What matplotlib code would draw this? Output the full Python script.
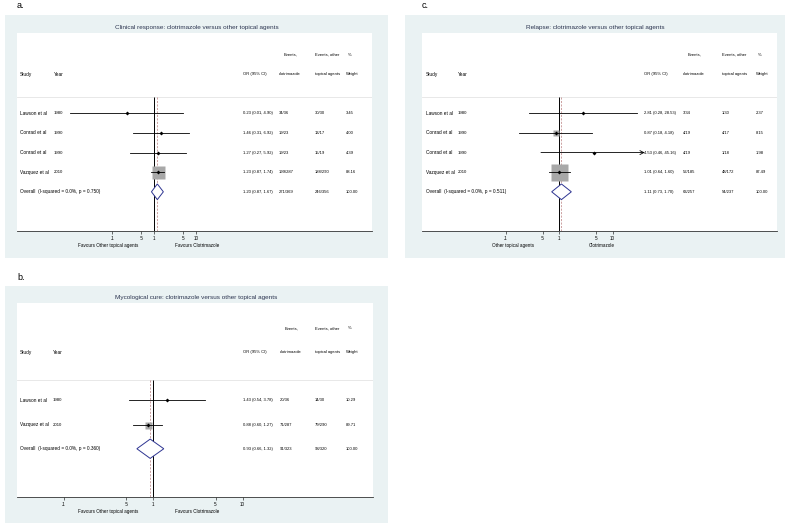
import numpy as np
import matplotlib
matplotlib.use("Agg")
import matplotlib.pyplot as plt
from matplotlib.transforms import blended_transform_factory

plt.rcParams['font.family'] = ['Liberation Sans', 'DejaVu Sans']

W, H = 793, 525

# ---- data ----
clin_study = ['Lawson et al', 'Conrad et al', 'Conrad et al', 'Vazquez et al']
clin_year = ['1980', '1990', '1990', '2010']
clin_or = [0.23, 1.46, 1.27, 1.23]
clin_lo = [0.01, 0.31, 0.27, 0.87]
clin_hi = [4.90, 6.92, 5.92, 1.74]
clin_ev1 = ['34/36', '19/23', '19/23', '199/287']
clin_ev2 = ['30/30', '13/17', '15/19', '188/290']
clin_wt = [3.45, 4.00, 4.39, 88.16]
clin_overall = (1.20, 0.87, 1.67, '271/369', '246/356', '(I-squared = 0.0%, p = 0.750)')

rel_study = ['Lawson et al', 'Conrad et al', 'Conrad et al', 'Vazquez et al']
rel_year = ['1980', '1990', '1990', '2010']
rel_or = [2.81, 0.87, 4.53, 1.01]
rel_lo = [0.28, 0.18, 0.46, 0.64]
rel_hi = [28.53, 4.18, 45.16, 1.60]
rel_ev1 = ['3/34', '4/19', '4/19', '52/185']
rel_ev2 = ['1/30', '4/17', '1/18', '48/172']
rel_wt = [2.37, 8.15, 1.98, 87.49]
rel_overall = (1.11, 0.73, 1.70, '63/257', '54/237', '(I-squared = 0.0%, p = 0.511)')

myc_study = ['Lawson et al', 'Vazquez et al']
myc_year = ['1980', '2010']
myc_or = [1.43, 0.88]
myc_lo = [0.54, 0.60]
myc_hi = [3.78, 1.27]
myc_ev1 = ['20/36', '71/287']
myc_ev2 = ['14/30', '79/290']
myc_wt = [10.29, 89.71]
myc_overall = (0.93, 0.66, 1.32, '91/323', '93/320', '(I-squared = 0.0%, p = 0.360)')

tick_vals = [0.1, 0.5, 1, 5, 10]
tick_labels = ['.1', '.5', '1', '5', '10']

BG = '#eaf2f3'
TITLE_C = '#2c3550'
DIAMOND_C = '#2e3592'
OLINE_C = '#b87c7c'
FS = 3.4    # left-hand labels
FSR = 3.0   # right-hand columns
TFS = 4.6

fig = plt.figure(figsize=(W / 100, H / 100), dpi=100)
fig.patch.set_facecolor('white')


def px_axes(x0, y0, x1, y1):
    return fig.add_axes([x0 / W, 1 - y1 / H, (x1 - x0) / W, (y1 - y0) / H])


def forest(panel, bg_box, in_box, log_lims, ylims, title, study, year, orv, lo, hi,
           ev1, ev2, wt, overall, cols, fav, box_max, clip=None):
    # background region
    bga = px_axes(*bg_box)
    bga.set_facecolor(BG)
    bga.set_xticks([])
    bga.set_yticks([])
    for s in bga.spines.values():
        s.set_visible(False)
    bga.text(0.5, 1 - (in_box[1] - 5 - bg_box[1]) / (bg_box[3] - bg_box[1]), title,
             transform=bga.transAxes, ha='center', va='center', fontsize=TFS, color=TITLE_C)
    fig.text((in_box[0]) / W, 1 - (bg_box[1] - 9) / H, panel, fontsize=6.5,
             ha='left', va='center')

    ax = px_axes(*in_box)
    ax.set_facecolor('white')
    ax.set_xscale('log')
    ax.set_xlim(10 ** log_lims[0], 10 ** log_lims[1])
    ax.set_ylim(ylims[1], ylims[0])
    for k in ['top', 'right', 'left']:
        ax.spines[k].set_visible(False)
    ax.spines['bottom'].set_linewidth(0.6)
    ax.spines['bottom'].set_color('#333333')
    ax.set_yticks([])
    ax.set_xticks(tick_vals)
    ax.set_xticklabels(tick_labels)
    ax.xaxis.set_minor_locator(matplotlib.ticker.NullLocator())
    ax.tick_params(axis='x', length=2.5, width=0.4, labelsize=3.3, pad=1)

    tr = blended_transform_factory(ax.transAxes, ax.transData)
    xs, xy, xo, xe1, xe2, xw = [(c - in_box[0]) / (in_box[2] - in_box[0]) for c in cols]

    def put(x, y, s, fs=FSR):
        ax.text(x, y, s, transform=tr, fontsize=fs, va='center')

    # headers
    put(xs, 1, 'Study', FS)
    put(xy, 1, 'Year', FS)
    put(xo, 1, 'OR (95% CI)')
    put(xe1 + 0.012, 0, 'Events,')
    put(xe1, 1, 'clotrimazole')
    put(xe2, 0, 'Events, other')
    put(xe2, 1, 'topical agents')
    put(xw + 0.005, 0, '%')
    put(xw, 1, 'Weight')

    n = len(study)
    rows = np.arange(n) + 3
    ov_row = n + 3
    top = 2.15
    ax.axhline(top, color='#e4e4e4', lw=0.6)
    ax.vlines(1, top, ylims[1], color='black', lw=0.7, zorder=2)
    ax.vlines(overall[0], top, ylims[1], color=OLINE_C, lw=0.5,
              linestyles=(0, (3, 2)), zorder=2)

    wmax = max(wt)
    for i in range(n):
        y = rows[i]
        side = box_max * np.sqrt(wt[i] / wmax)
        ax.plot(orv[i], y, marker='s', ms=side * 0.72, color='#a8a8a8', mec='none', zorder=3)
        if clip is not None and hi[i] > clip:
            ax.annotate('', xy=(clip, y), xytext=(lo[i], y),
                        arrowprops=dict(arrowstyle='->', lw=0.6, color='black',
                                        shrinkA=0, shrinkB=0, mutation_scale=7),
                        zorder=4)
        else:
            ax.plot([lo[i], hi[i]], [y, y], color='black', lw=0.6, zorder=4)
        ax.plot(orv[i], y, marker='D', ms=2.0, color='black', mec='none', zorder=5)
        put(xs, y, study[i], FS)
        put(xy, y, year[i], 3.1)
        put(xo, y, '%.2f (%.2f, %.2f)' % (orv[i], lo[i], hi[i]))
        put(xe1, y, ev1[i])
        put(xe2, y, ev2[i])
        put(xw, y, '%.2f' % wt[i])

    est, olo, ohi, oe1, oe2, het = overall
    dh = 0.4
    ax.fill([olo, est, ohi, est, olo], [ov_row, ov_row - dh, ov_row, ov_row + dh, ov_row],
            facecolor='white', edgecolor=DIAMOND_C, lw=0.7, zorder=6)
    put(xs, ov_row, 'Overall  ' + het, FS)
    put(xo, ov_row, '%.2f (%.2f, %.2f)' % (est, olo, ohi))
    put(xe1, ov_row, oe1)
    put(xe2, ov_row, oe2)
    put(xw, ov_row, '100.00')

    ax.text(0.256, -0.075, fav[0], transform=ax.transAxes, fontsize=3.3, ha='center', va='center')
    ax.text(0.506, -0.075, fav[1], transform=ax.transAxes, fontsize=3.3, ha='center', va='center')


# panel a
forest('a.', (5, 15, 388, 258), (17, 33, 372, 231), ((17 - 154) / 42, (372 - 154) / 42),
       (-1.1, 9.0), 'Clinical response: clotrimazole versus other topical agents',
       clin_study, clin_year, clin_or, clin_lo, clin_hi, clin_ev1, clin_ev2, clin_wt,
       clin_overall, (20, 54, 243, 279, 315, 346),
       ('Favours Other topical agents', 'Favours Clotrimazole'), 13)

# panel c
forest('c.', (405, 15, 785, 258), (422, 33, 777, 231), ((422 - 559) / 53.5, (777 - 559) / 53.5),
       (-1.1, 9.0), 'Relapse: clotrimazole versus other topical agents',
       rel_study, rel_year, rel_or, rel_lo, rel_hi, rel_ev1, rel_ev2, rel_wt,
       rel_overall, (426, 458, 644, 683, 722, 756),
       ('Other topical agents', 'Clotrimazole'), 17, clip=40)

# panel b
forest('b.', (5, 286, 388, 523), (17, 303, 373, 497), ((17 - 153) / 89.5, (373 - 153) / 89.5),
       (-1.04, 7.0), 'Mycological cure: clotrimazole versus other topical agents',
       myc_study, myc_year, myc_or, myc_lo, myc_hi, myc_ev1, myc_ev2, myc_wt,
       myc_overall, (20, 53, 243, 280, 315, 346),
       ('Favours Other topical agents', 'Favours Clotrimazole'), 7)

fig.savefig('out.png', dpi=100)
